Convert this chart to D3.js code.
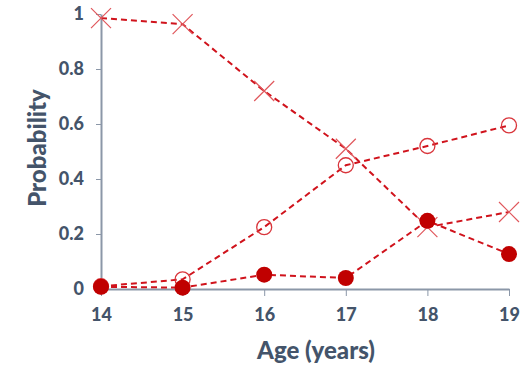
<!DOCTYPE html>
<html><head><meta charset="utf-8">
<script src="https://cdn.jsdelivr.net/npm/d3@7"></script>
<style>body{margin:0;background:#fff}svg{display:block}text{font-family:Lato,"Open Sans",sans-serif;font-weight:bold}</style>
</head><body><div id="chart"></div>
<script>
const ages = [14, 15, 16, 17, 18, 19];
const yTicks = [0, 0.2, 0.4, 0.6, 0.8, 1];
const crossSeries = [0.985, 0.963, 0.72, 0.51, 0.225, 0.28];
const openSeries = [0.01, 0.035, 0.225, 0.45, 0.52, 0.595];
const filledSeries = [0.008, 0.005, 0.052, 0.04, 0.248, 0.127];

const W = 523, H = 367;
const svg = d3.select("#chart").append("svg").attr("width", W).attr("height", H);
const x = d3.scaleLinear().domain([14, 19]).range([101, 509]);
const y = d3.scaleLinear().domain([0, 1]).range([289, 14]);
const axisColor = "#8B97A8", textColor = "#44546A";

const xAxis = svg.append("g").attr("transform", "translate(0,289)")
  .call(d3.axisBottom(x).tickValues(ages).tickFormat(d3.format("d")).tickSize(5).tickSizeOuter(0));
const yAxis = svg.append("g").attr("transform", "translate(101,0)")
  .call(d3.axisLeft(y).tickValues(yTicks).tickFormat(d => d === 0 ? "0" : d === 1 ? "1" : d3.format(".1f")(d)).tickSize(5).tickSizeOuter(0));
[xAxis, yAxis].forEach(a => {
  a.select(".domain").attr("stroke", axisColor).attr("stroke-width", 2);
  a.selectAll(".tick line").attr("stroke", axisColor).attr("stroke-width", 1);
  a.selectAll(".tick text").attr("fill", textColor).style("font-size", "18px").style("font-family", "Lato, sans-serif").style("font-weight", "900");
});
xAxis.selectAll(".tick line").attr("y2", 7);
xAxis.selectAll(".tick text").attr("y", 19);
yAxis.selectAll(".tick text").attr("x", -17);

svg.append("text").attr("x", 316).attr("y", 359).attr("text-anchor", "middle")
  .attr("fill", textColor).style("font-size", "24px").style("font-weight", "900").text("Age (years)");
svg.append("text").attr("transform", "translate(46,148) rotate(-90)").attr("text-anchor", "middle")
  .attr("fill", textColor).style("font-size", "24px").style("font-weight", "900").text("Probability");

const red = "#C00000", line = d3.line().x((d, i) => x(ages[i])).y(d => y(d));
function drawLine(vals) {
  svg.append("path").attr("d", line(vals)).attr("fill", "none").attr("stroke", "#D0131C")
    .attr("stroke-width", 2).attr("stroke-dasharray", "6,4");
}
drawLine(crossSeries); drawLine(openSeries); drawLine(filledSeries);

// crosses
svg.selectAll(".cross").data(crossSeries).join("path").attr("class", "cross")
  .attr("d", (d, i) => { const cx = x(ages[i]), cy = y(d), s = 10; return `M${cx-s},${cy-s}L${cx+s},${cy+s}M${cx-s},${cy+s}L${cx+s},${cy-s}`; })
  .attr("stroke", "#E0575C").attr("stroke-width", 1.2).attr("fill", "none");
// open circles
svg.selectAll(".open").data(openSeries).join("circle").attr("class", "open")
  .attr("cx", (d, i) => x(ages[i])).attr("cy", d => y(d)).attr("r", 7.5)
  .attr("fill", "none").attr("stroke", "#D9353B").attr("stroke-width", 1.3);
// filled
svg.selectAll(".filled").data(filledSeries).join("circle").attr("class", "filled")
  .attr("cx", (d, i) => x(ages[i])).attr("cy", d => y(d)).attr("r", 8)
  .attr("fill", red);
</script></body></html>
